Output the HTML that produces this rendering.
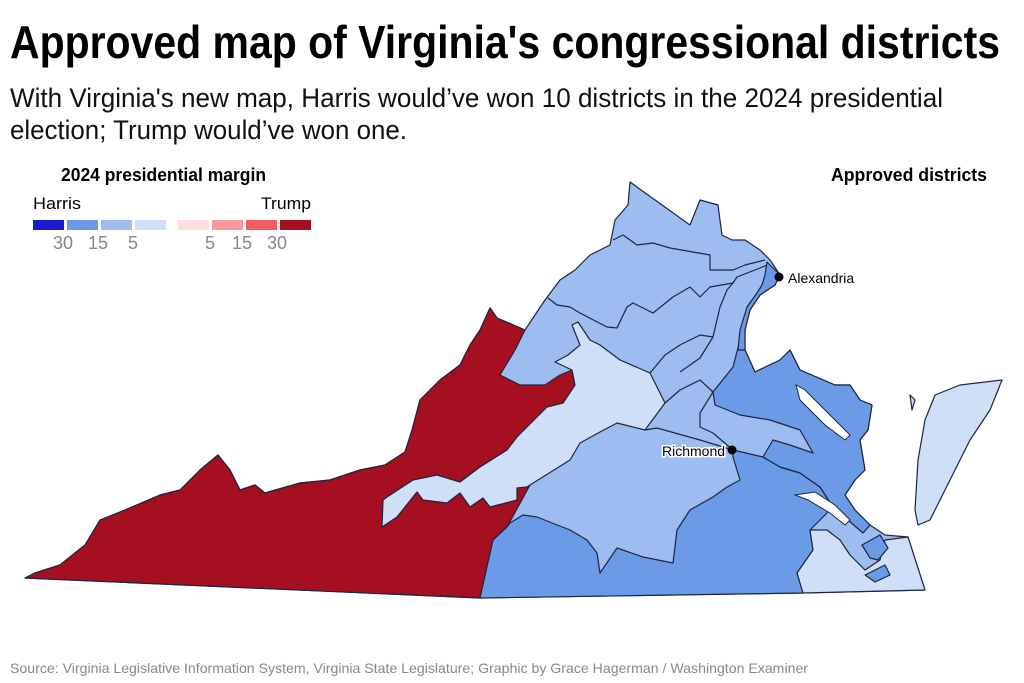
<!DOCTYPE html>
<html><head><meta charset="utf-8"><style>
html,body{margin:0;padding:0;background:#fff;width:1024px;height:683px;overflow:hidden}
text{font-family:"Liberation Sans Narrow","Liberation Sans",sans-serif}
</style></head><body>
<svg width="1024" height="683" viewBox="0 0 1024 683" xmlns="http://www.w3.org/2000/svg">
<text x="10" y="58" font-size="46" font-weight="bold" fill="#000" textLength="990" lengthAdjust="spacingAndGlyphs">Approved map of Virginia's congressional districts</text>
<text x="10" y="107" font-size="27" fill="#111" textLength="933" lengthAdjust="spacingAndGlyphs">With Virginia's new map, Harris would’ve won 10 districts in the 2024 presidential</text>
<text x="10" y="139" font-size="27" fill="#111" textLength="397" lengthAdjust="spacingAndGlyphs">election; Trump would’ve won one.</text>

<text x="61" y="181" font-size="18" font-weight="bold" textLength="205" lengthAdjust="spacingAndGlyphs">2024 presidential margin</text>
<text x="33" y="209" font-size="17" textLength="48" lengthAdjust="spacingAndGlyphs">Harris</text>
<text x="261" y="209" font-size="17" textLength="50" lengthAdjust="spacingAndGlyphs">Trump</text>
<rect x="33" y="220" width="31" height="10" fill="#1a1acf"/>
<rect x="67" y="220" width="31" height="10" fill="#6b9be6"/>
<rect x="101" y="220" width="31" height="10" fill="#9dbcf0"/>
<rect x="135" y="220" width="31" height="10" fill="#cfdff7"/>
<rect x="178" y="220" width="31" height="10" fill="#fddde0"/>
<rect x="212" y="220" width="31" height="10" fill="#f79a9d"/>
<rect x="246" y="220" width="31" height="10" fill="#f25d62"/>
<rect x="280" y="220" width="31" height="10" fill="#a50f1f"/>
<g font-size="18" fill="#888">
<text x="53" y="249">30</text><text x="88" y="249">15</text><text x="128" y="249">5</text>
<text x="205" y="249">5</text><text x="232" y="249">15</text><text x="267" y="249">30</text>
</g>
<text x="831" y="181" font-size="18" font-weight="bold" textLength="156" lengthAdjust="spacingAndGlyphs">Approved districts</text>

<g stroke="#1c2541" stroke-width="1.2" stroke-linejoin="round">
<path fill="#9dbcf0" d="M25,578 L35,573 L60,565 L85,545 L100,520 L125,510 L160,495 L180,490 L200,470 L218,455 L230,470 L240,490 L255,485 L265,493 L300,483 L330,480 L360,470 L385,465 L405,452 L412,430 L420,400 L440,380 L460,365 L470,345 L480,330 L490,308 L497,318 L525,330 L545,300 L560,280 L575,270 L590,255 L610,245 L615,220 L628,205 L630,182 L690,225 L700,200 L718,205 L722,235 L732,240 L745,240 L760,250 L770,260 L780,275 L775,285 L760,295 L750,310 L745,330 L745,350 L755,372 L780,360 L790,350 L800,370 L835,385 L850,385 L860,400 L872,405 L868,430 L860,440 L865,470 L855,480 L845,495 L855,510 L870,525 L885,535 L908,537 L925,590 L800,593 L480,598 Z"/>
<!-- red -->
<path fill="#a50f1f" d="M25,578 L35,573 L60,565 L85,545 L100,520 L125,510 L160,495 L180,490 L200,470 L218,455 L230,470 L240,490 L255,485 L265,493 L300,483 L330,480 L360,470 L385,465 L405,452 L412,430 L420,400 L440,380 L460,365 L470,345 L480,330 L490,308 L497,318 L525,330 L515,350 L500,375 L520,385 L545,385 L560,375 L572,370 L575,385 L563,403 L547,407 L537,417 L517,437 L507,450 L480,467 L460,482 L437,475 L413,480 L387,497 L383,500 L382,527 L397,517 L417,492 L423,500 L447,503 L460,493 L470,507 L483,498 L490,507 L517,500 L517,488 L530,485 L507,527 L493,540 L480,598 Z"/>
<!-- lightest central -->
<path fill="#cfdff7" d="M382,527 L383,500 L387,497 L413,480 L437,475 L460,482 L480,467 L507,450 L517,437 L537,417 L547,407 L563,403 L575,385 L572,370 L555,362 L568,355 L580,345 L572,325 L578,322 L590,340 L600,345 L620,360 L650,373 L665,403 L645,430 L617,423 L600,432 L580,443 L570,460 L530,485 L527,487 L517,488 L517,500 L490,507 L483,498 L470,507 L460,493 L447,503 L423,500 L417,492 L397,517 Z"/>
<!-- mid-blue south -->
<path fill="#6b9be6" d="M480,598 L493,540 L507,527 L510,523 L523,515 L537,517 L570,530 L587,540 L597,553 L600,573 L617,548 L643,557 L673,563 L677,530 L690,510 L713,497 L727,487 L740,480 L733,457 L733,450 L763,457 L780,467 L800,473 L820,487 L833,507 L827,513 L810,530 L813,550 L797,573 L803,593 Z"/>
<!-- mid-blue eastern -->
<path fill="#6b9be6" d="M740,340 L745,350 L755,372 L780,360 L790,350 L800,370 L835,385 L850,385 L860,400 L872,405 L868,430 L860,440 L865,470 L855,480 L845,495 L855,510 L870,525 L863,533 L833,507 L820,487 L800,473 L780,467 L763,457 L773,440 L790,445 L813,453 L800,430 L770,420 L740,415 L715,405 L713,392 L733,367 Z"/>
<path fill="#6b9be6" d="M767,262 L780,275 L775,285 L760,295 L750,310 L745,330 L745,350 L738,350 L740,330 L747,307 L757,293 L762,285 L765,275 Z"/>
<!-- lightest SE -->
<path fill="#cfdff7" d="M803,593 L925,590 L908,537 L885,540 L880,560 L865,570 L850,555 L840,540 L827,530 L810,530 L813,550 L797,573 Z"/>
<path fill="#6b9be6" d="M862,545 L880,535 L888,548 L878,560 L870,558 Z"/>
<path fill="#6b9be6" d="M865,575 L885,565 L890,575 L875,582 Z"/>
<path fill="#cfdff7" d="M1002,380 L960,385 L935,395 L925,420 L918,460 L915,510 L918,525 L930,520 L945,490 L970,440 L990,410 Z"/>
<path fill="#cfdff7" d="M910,395 L915,400 L912,410 Z"/>
</g>
<path fill="#fff" stroke="#1c2541" stroke-width="1" d="M796,385 L805,390 L835,420 L850,435 L845,440 L825,425 L800,400 Z"/>
<path fill="#fff" stroke="#1c2541" stroke-width="1" d="M795,495 L815,492 L835,505 L850,520 L845,525 L830,513 L808,500 Z"/>
<g fill="none" stroke="#1c2541" stroke-width="1.2" stroke-linejoin="round">
<path d="M613,240 L623,235 L637,245 L653,243 L670,248 L710,255 L710,270 L733,270 L745,265 L765,260"/>
<path d="M548,298 L557,305 L570,307 L580,313 L607,327 L617,328 L627,307 L633,303 L653,313 L673,297 L690,287 L700,297 L710,287 L733,283 L737,277 L760,268 L767,265"/>
<path d="M650,373 L665,355 L680,345 L700,335 L713,337 L720,307 L727,290 L733,283"/>
<path d="M680,372 L700,358 L713,337"/>
<path d="M665,403 L680,390 L700,380 L713,392"/>
<path d="M645,430 L657,428 L700,440 L733,450"/>
<path d="M733,450 L713,433 L700,427 L700,413 L713,392"/>
</g>
<circle cx="779" cy="277" r="4.5" fill="#000"/>
<text x="788" y="283" font-size="14" fill="#000">Alexandria</text>
<circle cx="732" cy="450" r="4.5" fill="#000"/>
<text x="662" y="456" font-size="14" fill="#000" stroke="#fff" stroke-width="3" paint-order="stroke">Richmond</text>
<text x="10" y="673" font-size="14" fill="#888" textLength="798" lengthAdjust="spacingAndGlyphs">Source: Virginia Legislative Information System, Virginia State Legislature;  Graphic by Grace Hagerman / Washington Examiner</text>
</svg>
</body></html>
